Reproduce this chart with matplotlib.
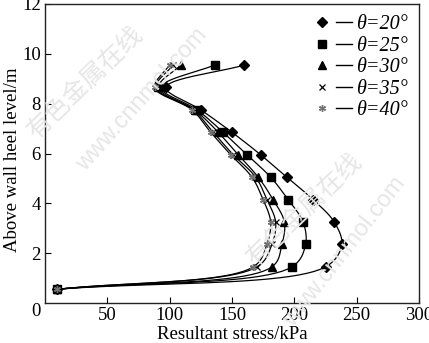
import numpy as np
import matplotlib
matplotlib.use("Agg")
import matplotlib.pyplot as plt
from matplotlib.lines import Line2D
from matplotlib.legend_handler import HandlerTuple

# Heights above wall heel (m) shared by every curve
levels = [0.55, 1.45, 2.35, 3.25, 4.15, 5.05, 5.95, 6.85, 7.75, 8.65, 9.55]

# Resultant stress (kPa) at each height for each theta
stress_20 = [10, 225, 238, 232, 215, 194, 173, 150, 125, 97, 160]
stress_25 = [10, 198, 209, 207, 195, 181, 162, 143, 122, 93, 136]
stress_30 = [10, 182, 190, 192, 183, 171, 155, 139, 120, 91, 109]
stress_35 = [10, 170, 182, 185, 178, 169, 151, 135, 119, 89, 103]
stress_40 = [10, 167, 178, 181, 175, 166, 149, 133, 118, 88, 100]

labels = ["θ=20°", "θ=25°", "θ=30°", "θ=35°", "θ=40°"]
series = [stress_20, stress_25, stress_30, stress_35, stress_40]

x_ticks = [50, 100, 150, 200, 250, 300]
y_ticks = [2, 4, 6, 8, 10, 12]

styles = [
    dict(marker="D", ms=4.8, mfc="black", mec="black"),
    dict(marker="s", ms=5.5, mfc="black", mec="black"),
    dict(marker="^", ms=5.8, mfc="black", mec="black"),
    dict(marker="x", ms=4.5, mfc="black", mec="black", mew=0.9),
    dict(marker=(6, 2, 0), ms=5, mfc="0.45", mec="0.45", mew=1.0),
]


def smooth_curve(xs, ys, sx=1.25, sy=25.0, n=24):
    """Centripetal Catmull-Rom curve through the points (scaled to screen units)."""
    p = np.column_stack([np.asarray(xs, float) * sx, np.asarray(ys, float) * sy])
    pts = np.vstack([2 * p[0] - p[1], p, 2 * p[-1] - p[-2]])
    out = []
    for i in range(1, len(pts) - 2):
        p0, p1, p2, p3 = pts[i - 1], pts[i], pts[i + 1], pts[i + 2]
        def tj(ti, a, b):
            return ti + np.linalg.norm(b - a) ** 0.5 + 1e-9
        t0 = 0.0
        t1 = tj(t0, p0, p1)
        t2 = tj(t1, p1, p2)
        t3 = tj(t2, p2, p3)
        t = np.linspace(t1, t2, n)[:, None]
        a1 = (t1 - t) / (t1 - t0) * p0 + (t - t0) / (t1 - t0) * p1
        a2 = (t2 - t) / (t2 - t1) * p1 + (t - t1) / (t2 - t1) * p2
        a3 = (t3 - t) / (t3 - t2) * p2 + (t - t2) / (t3 - t2) * p3
        b1 = (t2 - t) / (t2 - t0) * a1 + (t - t0) / (t2 - t0) * a2
        b2 = (t3 - t) / (t3 - t1) * a2 + (t - t1) / (t3 - t1) * a3
        c = (t2 - t) / (t2 - t1) * b1 + (t - t1) / (t2 - t1) * b2
        out.append(c if i == 1 else c[1:])
    c = np.vstack(out)
    return c[:, 0] / sx, c[:, 1] / sy


serif = "Liberation Serif"
plt.rcParams["font.family"] = [serif, "DejaVu Sans"]

fig = plt.figure(figsize=(4.29, 3.43), dpi=100)
ax = fig.add_axes([45 / 429, 1 - 303 / 343, 374 / 429, 299 / 343])

# faint site watermark behind the data
wm = "#e6e6e6"
cjk = ["Noto Sans CJK SC", "DejaVu Sans"]
fig.text(86 / 429, 1 - 82 / 343, "有色金属在线", rotation=44, color=wm,
         fontsize=18, family=cjk, ha="center", va="center", zorder=0)
fig.text(142 / 429, 1 - 100 / 343, "www.cnnmol.com", rotation=48, color=wm,
         fontsize=17, family="Liberation Sans", ha="center", va="center", zorder=0)
fig.text(305 / 429, 1 - 209 / 343, "有色金属在线", rotation=44, color=wm,
         fontsize=18, family=cjk, ha="center", va="center", zorder=0)
fig.text(345 / 429, 1 - 252 / 343, "www.cnnmol.com", rotation=52, color=wm,
         fontsize=17, family="Liberation Sans", ha="center", va="center", zorder=0)
ax.set_facecolor("none")

handles = []
for vals, st, lab in zip(series, styles, labels):
    cx, cy = smooth_curve(vals, levels)
    ax.plot(cx, cy, color="black", lw=0.9, zorder=2)
    ax.plot(vals, levels, ls="none", zorder=3, **st)
    mk = Line2D([], [], ls="none", **st)
    ln = Line2D([], [], color="black", lw=1.0)
    handles.append((mk, ln))

ax.set_xlim(0, 300)
ax.set_ylim(0, 12)
ax.set_xticks(x_ticks)
ax.set_yticks(y_ticks)
ax.tick_params(direction="in", length=4, width=0.8, labelsize=13.5, pad=3,
               top=False, right=False)
for s in ax.spines.values():
    s.set_linewidth(1.0)
    s.set_color("#222222")

ax.annotate("0", xy=(0, 0), xycoords="axes fraction", xytext=(-4, -8),
            textcoords="offset pixels", ha="right", va="center", fontsize=13.5)

ax.set_xlabel("Resultant stress/kPa", fontsize=13.5)
ax.set_ylabel("Above wall heel level/m", fontsize=13.5)
ax.xaxis.set_label_coords((232 - 45) / 374, (303 - 326) / 299)
ax.yaxis.set_label_coords((21 - 45) / 374, (303 - 160) / 299)

leg = ax.legend(handles, labels, handler_map={tuple: HandlerTuple(ndivide=None, pad=0.25)},
                loc="upper right", bbox_to_anchor=(1.0, 1.0), frameon=False,
                handlelength=1.9, handletextpad=0.2, labelspacing=0.12,
                borderaxespad=0.3, borderpad=0.25,
                prop=dict(family=serif, style="italic", size=14.5))

fig.savefig("out.png", dpi=100)
